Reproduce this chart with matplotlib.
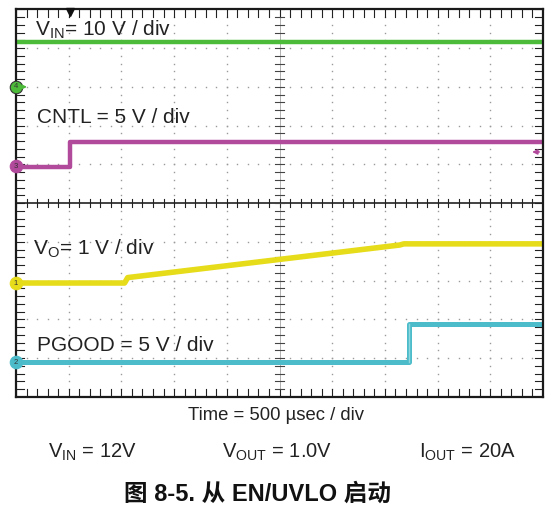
import numpy as np
import matplotlib.pyplot as plt

plt.rcParams['font.family'] = ['Liberation Sans', 'Noto Sans CJK SC', 'DejaVu Sans']
plt.rcParams['mathtext.fontset'] = 'custom'
plt.rcParams['mathtext.rm'] = 'Liberation Sans'
plt.rcParams['mathtext.it'] = 'Liberation Sans'

# ---- Scope traces (time in usec, level in screen divisions from bottom) ----
vin_time   = [0, 5000]
vin_level  = [9.15, 9.15]

cntl_time  = [0, 510, 510, 5000]
cntl_level = [5.93, 5.93, 6.58, 6.58]

vo_time    = [0, 1030, 1060, 3640, 3680, 5000]
vo_level   = [2.94, 2.94, 3.08, 3.92, 3.95, 3.95]

pgood_time  = [0, 3730, 3730, 5000]
pgood_level = [0.90, 0.90, 1.88, 1.88]

# channel markers on the left edge: (label, level, colour)
channel_markers = [('4', 8.0, '#4dbb3a'), ('3', 5.95, '#b24a9c'),
                   ('1', 2.94, '#e6dc1a'), ('2', 0.90, '#4cbccb')]

fig = plt.figure(figsize=(5.6, 5.14), dpi=100)
ax = fig.add_axes([16 / 560, 1 - 397 / 514, 527 / 560, 387.7 / 514])
ax.set_xlim(0, 5000)
ax.set_ylim(0, 10)
ax.set_xticks([])
ax.set_yticks([])
for spine in ax.spines.values():
    spine.set_linewidth(1.6)
    spine.set_color('#1a1a1a')

# ---- Graticule ----
div_t = 500
for i in range(1, 10):
    if i == 5:
        continue
    ax.plot([i * div_t] * 51, np.linspace(0, 10, 51), ls='none', marker='s',
            ms=1.0, color='#9a9a9a', mew=0)
    ax.plot(np.linspace(0, 5000, 51), [i] * 51, ls='none', marker='s',
            ms=1.0, color='#9a9a9a', mew=0)
ax.axvline(2500, color='#b0b0b0', lw=0.7)
ax.axhline(5, color='#222222', lw=1.2)

minor_x = np.arange(0, 5001, 100)
minor_y = np.arange(0, 10.01, 0.2)
tx = 0.1       # tick half length in divisions (vertical)
ty = 40        # tick half length in usec (horizontal)
for x in minor_x:
    ax.plot([x, x], [5 - tx, 5 + tx], color='#222222', lw=0.8)
    ax.plot([x, x], [0, 0.2], color='#222222', lw=0.8)
    ax.plot([x, x], [10, 9.8], color='#222222', lw=0.8)
for y in minor_y:
    ax.plot([2500 - ty, 2500 + ty], [y, y], color='#444444', lw=0.8)
    ax.plot([0, 80], [y, y], color='#222222', lw=0.8)
    ax.plot([5000, 4920], [y, y], color='#222222', lw=0.8)

# ---- Traces ----
ax.plot(vin_time, vin_level, color='#4dbb3a', lw=3.2, solid_capstyle='butt')
ax.plot(cntl_time, cntl_level, color='#b24a9c', lw=3.2, solid_capstyle='butt')
ax.plot(vo_time, vo_level, color='#e6dc1a', lw=4.0, solid_capstyle='butt')
ax.plot(pgood_time, pgood_level, color='#4cbccb', lw=3.6, solid_capstyle='butt')
ax.plot([cntl_time[1]] * 2, cntl_level[1:3], color='#b24a9c', lw=1.2)
ax.plot([pgood_time[1]] * 2, pgood_level[1:3], color='#8fd6de', lw=1.0)

for label, level, colour in channel_markers:
    ax.plot([0], [level], marker='o', ms=9, color=colour, mec='#333333' if label == '4' else colour,
            mew=0.8, clip_on=False, zorder=5)
    ax.text(0, level, label, ha='center', va='center', fontsize=5.5,
            color='#333333', zorder=6, clip_on=False)
    ax.annotate('', xy=(130, level), xytext=(40, level),
                arrowprops=dict(arrowstyle='-|>', color=colour, lw=1.0,
                                mutation_scale=6), zorder=5)

# CNTL reference arrow at the right edge, trigger marker at top
ax.annotate('', xy=(4870, 6.32), xytext=(4990, 6.32),
            arrowprops=dict(arrowstyle='-|>', color='#b24a9c', lw=1.2, mutation_scale=7))
ax.plot([510], [9.93], marker='v', ms=6, color='#111111', clip_on=False, zorder=6)

# ---- Channel labels ----
label_kw = dict(fontsize=15, color='#222222', va='center', ha='left')
ax.text(180, 9.48, r'V$_{\mathregular{IN}}$= 10 V / div', **label_kw)
ax.text(200, 7.22, 'CNTL = 5 V / div', **label_kw)
ax.text(160, 3.82, r'V$_{\mathregular{O}}$= 1 V / div', **label_kw)
ax.text(200, 1.34, 'PGOOD = 5 V / div', **label_kw)

# ---- Text below the screen ----
fig.text(276 / 560, 1 - 415 / 514, 'Time = 500 µsec / div', ha='center', va='center',
         fontsize=13.3, color='#222222')
fig.text(92 / 560, 1 - 452 / 514, r'V$_{\mathregular{IN}}$ = 12V', ha='center', va='center',
         fontsize=14.5, color='#222222')
fig.text(277 / 560, 1 - 452 / 514, r'V$_{\mathregular{OUT}}$ = 1.0V', ha='center', va='center',
         fontsize=14.5, color='#222222')
fig.text(467 / 560, 1 - 452 / 514, r'I$_{\mathregular{OUT}}$ = 20A', ha='center', va='center',
         fontsize=14.5, color='#222222')
fig.text(258 / 560, 1 - 494 / 514, '图 8-5. 从 EN/UVLO 启动', ha='center', va='center',
         fontsize=17, fontweight='bold', color='#111111',
         family=['Liberation Sans', 'Noto Sans CJK SC'])

fig.savefig('out.png', dpi=100)
